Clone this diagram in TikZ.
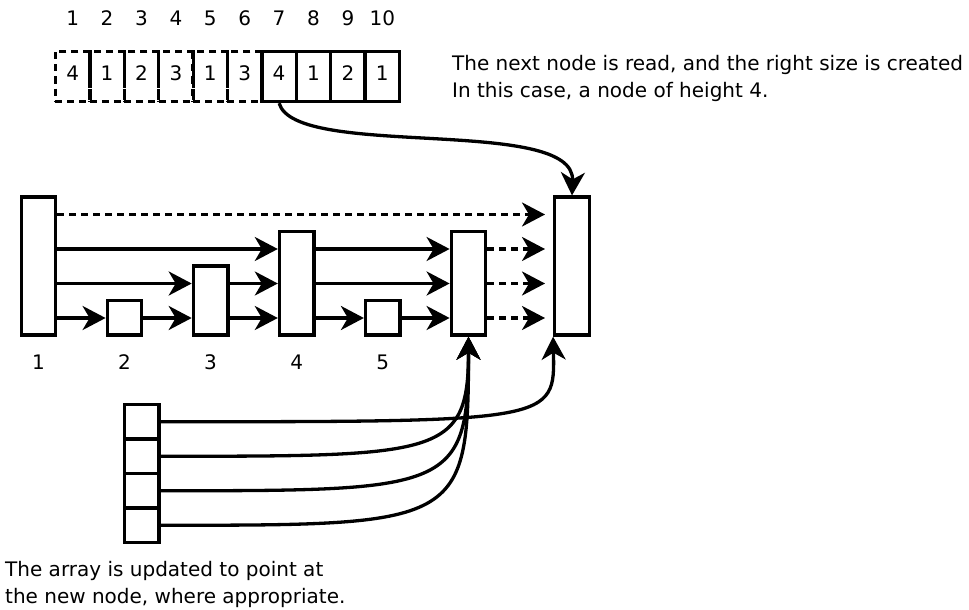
\documentclass[tikz,border=0pt]{standalone}
\usepackage{fontspec}
\setmainfont{DejaVu Sans}
\usetikzlibrary{arrows.meta}

\tikzset{
  box/.style={draw,line width=3.3pt,inner sep=0pt,minimum width=34.5pt},
  cell/.style={box,minimum height=50pt,text height=14pt,text depth=5pt},
  oldcell/.style={cell,dash pattern=on 7pt off 5pt},
  tower/.style={box,anchor=south},
  link/.style={line width=3.3pt,-{Stealth[length=23pt,width=24pt,inset=7pt]}},
  later/.style={link,dash pattern=on 7pt off 5pt},
  label/.style={anchor=base,inner sep=0pt},
  note/.style={anchor=north west,align=left,inner sep=0pt}
}

\begin{document}
\begin{tikzpicture}[x=1pt,y=-1pt,font=\fontsize{20}{27}\selectfont]
\useasboundingbox (0,0) rectangle (969,610);

% the input list, cells already read are dashed
\foreach \v [count=\i] in {4,1,2,3,1,3}
  \node[oldcell] (c\i) at ({55.5+34.4*(\i-0.5)},76.5) {\v};
\foreach \v [count=\i from 7] in {4,1,2,1}
  \node[cell] (c\i) at ({55.5+34.4*(\i-0.5)},76.5) {\v};
\foreach \i in {1,...,10}
  \node[label] (i\i) at ({55.5+34.4*(\i-0.5)},26) {\i};

% the skip list built so far
\node[tower,minimum height=138pt] (n1) at (38.4,336.7) {};
\node[tower,minimum height=34.5pt] (n2) at (124.5,336.7) {};
\node[tower,minimum height=69pt] (n3) at (210.6,336.7) {};
\node[tower,minimum height=103.5pt] (n4) at (296.7,336.7) {};
\node[tower,minimum height=34.5pt] (n5) at (382.8,336.7) {};
\node[tower,minimum height=103.5pt] (n6) at (468.5,336.7) {};
\node[tower,minimum height=138pt] (fin) at (572,336.7) {};

\node[label] (t1) at (38.4,369.5) {1};
\node[label] (t2) at (124.5,369.5) {2};
\node[label] (t3) at (210.6,369.5) {3};
\node[label] (t4) at (296.7,369.5) {4};
\node[label] (t5) at (382.8,369.5) {5};

\coordinate (L1) at (0,318);
\coordinate (L2) at (0,283.5);
\coordinate (L3) at (0,249);
\coordinate (L4) at (0,214.5);
\coordinate (e1) at (545,318);
\coordinate (e2) at (545,283.5);
\coordinate (e3) at (545,249);
\coordinate (e4) at (545,214.5);

% level 1
\draw[link] (n1.east |- L1) -- (n2.west |- L1);
\draw[link] (n2.east |- L1) -- (n3.west |- L1);
\draw[link] (n3.east |- L1) -- (n4.west |- L1);
\draw[link] (n4.east |- L1) -- (n5.west |- L1);
\draw[link] (n5.east |- L1) -- (n6.west |- L1);
\draw[later] (n6.east |- L1) -- (e1);
% level 2
\draw[link] (n1.east |- L2) -- (n3.west |- L2);
\draw[link] (n3.east |- L2) -- (n4.west |- L2);
\draw[link] (n4.east |- L2) -- (n6.west |- L2);
\draw[later] (n6.east |- L2) -- (e2);
% level 3
\draw[link] (n1.east |- L3) -- (n4.west |- L3);
\draw[link] (n4.east |- L3) -- (n6.west |- L3);
\draw[later] (n6.east |- L3) -- (e3);
% level 4
\draw[later] (n1.east |- L4) -- (e4);

% the update array
\node[box,minimum height=34.5pt] (a1) at (141.7,421.75) {};
\node[box,minimum height=34.5pt] (a2) at (141.7,456.25) {};
\node[box,minimum height=34.5pt] (a3) at (141.7,490.75) {};
\node[box,minimum height=34.5pt] (a4) at (141.7,525.25) {};

\draw[link] (c7.south) .. controls (295,160) and (575,115) .. (fin.north);
\draw[link] (a1.east) .. controls (555,421.75) and (555,421.75) .. (fin.south west);
\draw[link] (a2.east) .. controls (440,456.25) and (468.5,456.25) .. (n6.south);
\draw[link] (a3.east) .. controls (450,490.75) and (468.5,490.75) .. (n6.south);
\draw[link] (a4.east) .. controls (460,525.25) and (468.5,525.25) .. (n6.south);

\node[note] (readnote) at (452,55.5) {The next node is read, and the right size is created\\In this case, a node of height 4.};
\node[note] (arraynote) at (5,561) {The array is updated to point at\\the new node, where appropriate.};
\end{tikzpicture}
\end{document}
